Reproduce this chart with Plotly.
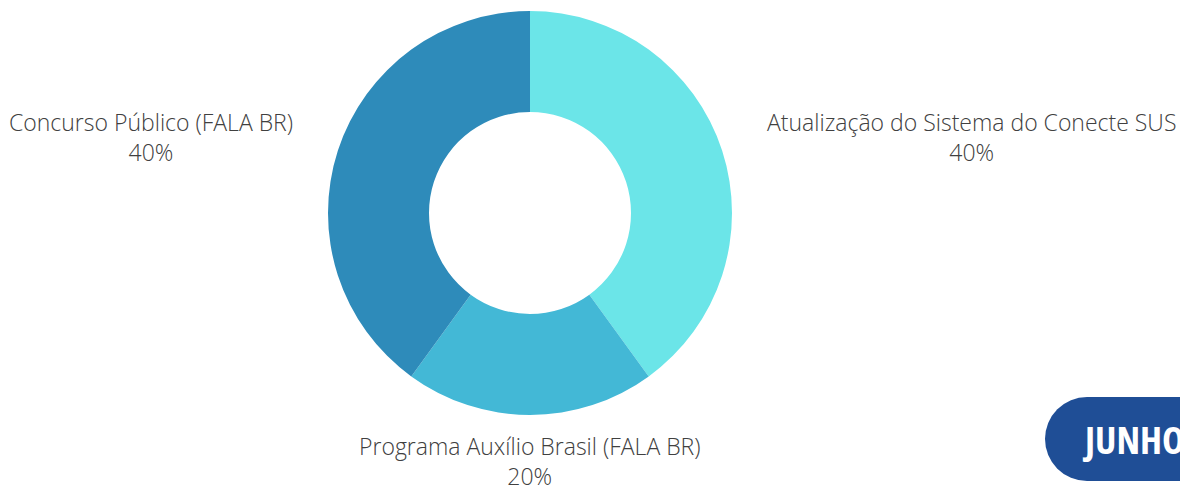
import plotly.graph_objects as go

# the page body keeps an 8px margin, so the figure is laid out from (8, 8)
OFF = 8
W, H = 1188 - OFF, 492 - OFF

labels = [
    "Atualização do Sistema do Conecte SUS",
    "Programa Auxílio Brasil (FALA BR)",
    "Concurso Público (FALA BR)",
]
values = [2, 1, 2]
colors = ["#6BE5E8", "#43B8D6", "#2E8BBA"]

# label anchor points (window pixels from top-left), one per slice
label_pos = [(971, 137), (530, 461), (151, 137)]

TEXT_COLOR = "#404040"
BUTTON_COLOR = "#1F4E96"


def px_x(x):
    return (x - OFF) / W


def px_y(y):
    return 1 - (y - OFF) / H


total = sum(values)

fig = go.Figure(
    go.Pie(
        labels=labels,
        values=values,
        marker=dict(colors=colors, line=dict(width=0)),
        hole=0.5,
        sort=False,
        direction="clockwise",
        rotation=0,
        textinfo="none",
        hoverinfo="label+percent",
        domain=dict(x=[px_x(328), px_x(732)], y=[px_y(415), px_y(11)]),
    )
)

for lab, val, (x, y) in zip(labels, values, label_pos):
    pct = round(val / total * 100)
    fig.add_annotation(
        x=px_x(x), y=px_y(y), xref="paper", yref="paper",
        text=f"{lab}<br>{pct}%",
        showarrow=False, xanchor="center", yanchor="middle",
        font=dict(family="Open Sans", size=23, color=TEXT_COLOR, weight=300),
    )

# "JUNHO" tab in the bottom-right corner
fig.add_shape(
    type="circle", xref="paper", yref="paper",
    x0=px_x(1045), x1=px_x(1129), y0=px_y(481), y1=px_y(397),
    fillcolor=BUTTON_COLOR, line=dict(width=0), layer="above",
)
fig.add_shape(
    type="rect", xref="paper", yref="paper",
    x0=px_x(1087), x1=px_x(1230), y0=px_y(481), y1=px_y(397),
    fillcolor=BUTTON_COLOR, line=dict(width=0), layer="above",
)
fig.add_annotation(
    x=px_x(1080), y=px_y(439), xref="paper", yref="paper",
    text='<span style="font-stretch:75%">JUNHO</span>',
    showarrow=False, xanchor="left", yanchor="middle",
    font=dict(family="Open Sans", size=38, color="white", weight=700),
)

fig.update_layout(
    width=W,
    height=H,
    margin=dict(l=0, r=0, t=0, b=0),
    showlegend=False,
    paper_bgcolor="white",
    plot_bgcolor="white",
)

fig.write_html("out.html")
